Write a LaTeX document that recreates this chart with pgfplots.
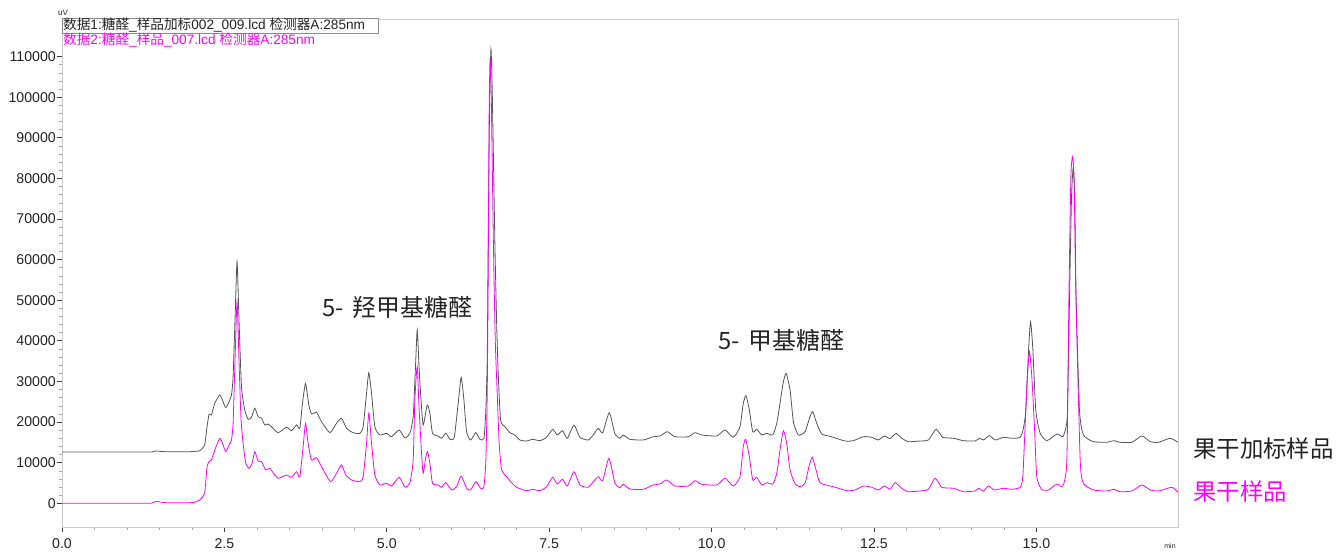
\documentclass[border=0pt]{standalone}
\usepackage{pgfplots}
\pgfplotsset{compat=1.18}
\usepackage{fontspec}
\setmainfont{Liberation Sans}
\newfontfamily\cjk{Noto Sans CJK SC}
\definecolor{mag}{RGB}{255,0,255}
\definecolor{trace}{RGB}{85,85,85}
\definecolor{txt}{RGB}{35,35,35}
\begin{document}
\begin{tikzpicture}[x=1bp,y=1bp]
\begin{axis}[
 at={(0,0)}, anchor=south west,
 scale only axis, width=1116bp, height=508bp,
 xmin=0, xmax=17.18, ymin=-5840, ymax=119280,
 axis line style={draw=black!20},
 xtick={0,2.5,5,7.5,10,12.5,15},
 ytick={0,10000,20000,30000,40000,50000,60000,70000,80000,90000,100000,110000},
 minor x tick num=4, minor y tick num=4,
 xtick pos=lower, ytick pos=left,
 tick align=outside,
 major tick length=5bp, minor tick length=3bp,
 major tick style={draw=black!75, line width=0.8bp},
 minor tick style={draw=black!35, line width=0.6bp},
 scaled y ticks=false, scaled x ticks=false,
 /pgf/number format/assume math mode=true,
 yticklabel style={/pgf/number format/fixed,/pgf/number format/1000 sep={}, font=\fontsize{14.2}{16}\selectfont, text=txt, inner sep=0pt, xshift=-1bp},
 xticklabel style={/pgf/number format/fixed,/pgf/number format/fixed zerofill,/pgf/number format/precision=1, font=\fontsize{14.2}{16}\selectfont, text=txt, yshift=-3bp},
 clip=false,
]
\addplot[trace, line width=0.8bp, smooth, tension=0.35] coordinates {
(0,12630)(1.30,12630)(1.40,12700)(1.45,12900)(1.50,12800)(1.60,12700)(1.97,12710)(2.05,12800)(2.12,12950)
(2.195,14360)(2.233,18870)(2.264,21920)(2.30,21750)(2.352,24630)(2.429,26670)(2.48,25030)(2.521,23550)
(2.572,25030)(2.609,26670)(2.634,31180)(2.665,46000)(2.695,59500)(2.725,45000)(2.763,28720)(2.814,22980)
(2.865,20690)(2.917,21180)(2.968,23400)(3.019,21330)(3.071,20940)(3.122,19290)(3.173,19530)(3.224,18870)
(3.327,17390)(3.456,18720)(3.533,17880)(3.610,19290)(3.661,18470)(3.702,24630)(3.749,29500)(3.80,24210)
(3.841,21990)(3.918,22410)(3.995,20100)(4.123,17390)(4.226,19700)(4.303,20940)(4.380,18470)(4.482,17390)
(4.585,17240)(4.636,18870)(4.688,27090)(4.723,32170)(4.765,27090)(4.816,18870)(4.893,16820)(4.996,17240)
(5.073,16400)(5.19,18050)(5.278,16100)(5.355,17200)(5.406,21330)(5.44,33000)(5.468,42680)(5.495,34000)
(5.52,27090)(5.56,19290)(5.622,24210)(5.663,22170)(5.704,17240)(5.791,16580)(5.843,16010)(5.910,17240)
(5.971,15760)(6.038,16250)(6.099,24630)(6.145,31030)(6.187,25440)(6.228,17630)(6.290,15590)(6.371,17390)
(6.433,15760)(6.495,16010)(6.525,22980)(6.546,35290)(6.56,62000)(6.58,95000)(6.603,111900)(6.625,100000)
(6.664,64000)(6.69,45000)(6.715,32000)(6.752,20520)(6.818,18870)(6.895,17390)(6.972,16820)(7.049,15590)
(7.152,15340)(7.245,15760)(7.357,15420)(7.460,16250)(7.553,18230)(7.624,16820)(7.706,17880)(7.778,16010)
(7.881,19290)(7.973,16250)(8.101,15590)(8.178,16820)(8.255,18470)(8.323,17390)(8.425,22310)(8.512,17070)
(8.589,16010)(8.640,16820)(8.743,15760)(8.948,15590)(9.102,16400)(9.205,16580)(9.318,17630)(9.436,16400)
(9.641,16400)(9.744,17390)(9.848,16820)(10.079,16580)(10.206,18050)(10.334,16250)(10.437,18870)(10.488,24630)
(10.530,26500)(10.581,22980)(10.633,17630)(10.695,18230)(10.772,16820)(10.849,17240)(10.941,16820)(11.003,19700)
(11.053,24630)(11.10,29500)(11.146,32000)(11.208,27910)(11.259,20100)(11.335,16820)(11.438,17630)(11.515,21330)
(11.557,22560)(11.618,19700)(11.695,17070)(11.823,16500)(12.054,15340)(12.182,15420)(12.336,16400)(12.465,16250)
(12.567,15590)(12.660,16580)(12.748,15920)(12.840,17240)(12.928,16010)(13.029,15180)(13.210,15340)(13.338,15590)
(13.456,18230)(13.559,16250)(13.723,16010)(13.877,15420)(14.057,15340)(14.123,16010)(14.185,15590)(14.277,16660)
(14.365,15590)(14.493,16250)(14.622,16010)(14.750,16250)(14.80,18470)(14.837,22980)(14.88,38000)(14.91,44700)
(14.945,38000)(14.99,23000)(15.058,17240)(15.161,15420)(15.315,17070)(15.407,16400)(15.458,18870)(15.478,22980)
(15.509,50000)(15.54,75000)(15.566,82600)(15.59,75000)(15.612,50000)(15.663,22980)(15.724,16820)(15.878,15180)
(16.085,15020)(16.187,15420)(16.290,15020)(16.47,15020)(16.624,16580)(16.752,15180)(16.880,15020)(17.06,16010)(17.18,15020)
};
\addplot[mag, line width=0.8bp, smooth, tension=0.35] coordinates {
(0,0)(1.30,0)(1.40,200)(1.45,450)(1.50,350)(1.60,150)(1.97,150)(2.05,300)(2.12,810)(2.195,2460)(2.233,9010)
(2.264,10250)(2.30,10660)(2.352,13130)(2.429,16010)(2.48,14360)(2.521,12710)(2.572,14360)(2.609,15590)(2.634,19700)
(2.665,36000)(2.695,49650)(2.725,35000)(2.755,21000)(2.788,14780)(2.829,9850)(2.88,8620)(2.926,9850)(2.968,12710)
(3.019,10420)(3.071,10250)(3.137,8200)(3.199,8620)(3.25,7540)(3.327,6160)(3.456,6970)(3.533,6400)(3.610,7780)
(3.661,6550)(3.712,13940)(3.749,19700)(3.789,14780)(3.841,10660)(3.918,11230)(3.995,9010)(4.134,5320)(4.226,7390)
(4.303,9430)(4.369,6970)(4.457,5740)(4.585,5320)(4.636,6550)(4.688,14780)(4.723,22170)(4.765,14780)(4.816,6970)
(4.893,4510)(4.996,4930)(5.073,4260)(5.19,6400)(5.278,4000)(5.355,5000)(5.406,10660)(5.432,25440)(5.468,33650)
(5.498,22980)(5.535,12320)(5.56,7390)(5.601,11480)(5.628,12710)(5.663,9850)(5.704,4930)(5.791,4510)(5.843,3940)
(5.910,5070)(5.997,3280)(6.074,4090)(6.145,6720)(6.228,3690)(6.290,3280)(6.371,5320)(6.444,3690)(6.495,4090)
(6.525,10660)(6.546,27090)(6.56,55000)(6.575,95000)(6.59,109600)(6.61,98000)(6.64,65000)(6.67,40000)(6.70,27090)
(6.73,14780)(6.767,8200)(6.845,6550)(6.921,5070)(6.998,3940)(7.152,3100)(7.245,3450)(7.357,3100)(7.460,4090)
(7.553,6400)(7.624,4750)(7.706,5910)(7.778,4260)(7.881,7780)(7.973,4510)(8.101,3940)(8.178,5320)(8.255,6550)
(8.323,5570)(8.42,11080)(8.512,4930)(8.589,3840)(8.64,4680)(8.743,3520)(8.948,3450)(9.102,4510)(9.205,4750)
(9.308,5740)(9.436,4260)(9.641,4260)(9.744,5570)(9.848,4680)(10.079,4510)(10.206,6160)(10.334,4260)(10.437,6550)
(10.488,13940)(10.525,15760)(10.581,11480)(10.633,5740)(10.695,6400)(10.772,4510)(10.849,5070)(10.941,4750)
(11.003,7390)(11.053,13130)(11.104,17880)(11.156,14780)(11.208,8200)(11.285,4750)(11.361,4090)(11.438,4930)
(11.505,9430)(11.551,11330)(11.608,8200)(11.669,5070)(11.823,4260)(11.874,4090)(12.08,3100)(12.208,3280)
(12.336,4260)(12.465,3940)(12.567,3280)(12.66,4260)(12.748,3450)(12.825,5070)(12.928,3690)(13.029,2860)
(13.21,3030)(13.338,3450)(13.441,6160)(13.544,3940)(13.723,3690)(13.877,2860)(14.057,3030)(14.108,3690)
(14.185,3030)(14.262,4260)(14.35,3280)(14.493,3690)(14.622,3450)(14.75,3940)(14.791,6550)(14.826,18870)
(14.86,31000)(14.894,37340)(14.93,31000)(14.97,18870)(15.006,6550)(15.079,3450)(15.185,3280)(15.315,4750)
(15.407,4260)(15.469,10660)(15.50,50000)(15.53,80000)(15.555,85300)(15.58,80000)(15.61,50000)(15.674,10660)
(15.724,4930)(15.878,3280)(16.085,3030)(16.187,3450)(16.29,2860)(16.47,3030)(16.624,4510)(16.752,3280)
(16.88,3030)(17.086,3940)(17.18,2700)
};
\end{axis}
\draw[draw=black!45, line width=0.6bp, fill=white] (0,494) rectangle (316,509);
\node[anchor=west, inner sep=0pt, text=txt, font=\fontsize{13.7}{15}\selectfont] at (1,501.5) {{\cjk 数据}1:{\cjk 糖醛}\_{\cjk 样品加标}002\_009.lcd {\cjk 检测器}A:285nm};
\node[anchor=west, inner sep=0pt, text=mag, font=\fontsize{13.7}{15}\selectfont] at (1,487) {{\cjk 数据}2:{\cjk 糖醛}\_{\cjk 样品}\_007.lcd {\cjk 检测器}A:285nm};
\node[anchor=center, inner sep=0pt, text=txt, font=\fontsize{8}{9}\selectfont] at (1,514) {uV};
\node[anchor=center, inner sep=0pt, text=txt, font=\fontsize{7}{8}\selectfont] at (1108,-19) {min};
\node[anchor=west, inner sep=0pt, text=txt, font=\cjk\fontsize{24}{27}\selectfont] at (260,220) {5-\hspace{0.15em} 羟甲基糖醛};
\node[anchor=west, inner sep=0pt, text=txt, font=\cjk\fontsize{24}{27}\selectfont] at (656,187) {5-\hspace{0.15em} 甲基糖醛};
\node[anchor=west, inner sep=0pt, text=txt, font=\cjk\fontsize{23.5}{26}\selectfont] at (1131,78.5) {果干加标样品};
\node[anchor=west, inner sep=0pt, text=mag, font=\cjk\fontsize{23.5}{26}\selectfont] at (1131,35) {果干样品};
\pgfresetboundingbox
\path[use as bounding box] (-62,-26) rectangle (1274,527);
\end{tikzpicture}
\end{document}
